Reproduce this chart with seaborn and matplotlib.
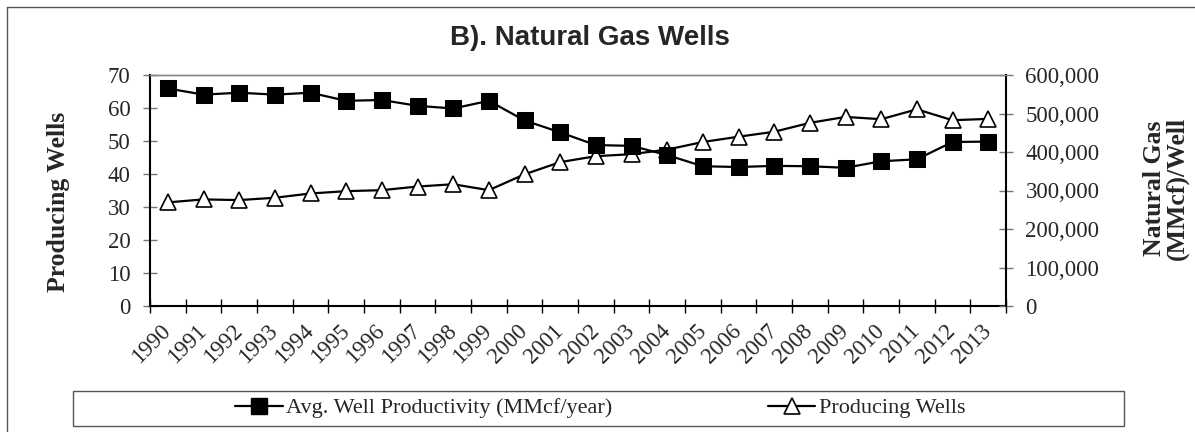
import numpy as np
import pandas as pd
import matplotlib
matplotlib.use("Agg")
import matplotlib.pyplot as plt
from matplotlib.lines import Line2D
from matplotlib.patches import Rectangle
from matplotlib.ticker import FuncFormatter, MultipleLocator
import seaborn as sns

# datos
years = list(range(1990, 2014))
producing_wells = [31.4, 32.3, 32.1, 32.8, 34.1, 34.8, 35.1, 36.2, 36.9, 35.1,
                   39.9, 43.6, 45.4, 46.0, 47.4, 49.7, 51.3, 52.8, 55.5, 57.3,
                   56.6, 59.6, 56.3, 56.7]
gas_per_well = [565000, 549000, 554000, 549000, 554000, 533000, 535000, 520000,
                513000, 533000, 482000, 451000, 418000, 416000, 392000, 363000,
                361000, 364000, 363000, 359000, 376000, 381000, 426000, 427000]
left_ticks = list(range(0, 71, 10))
right_ticks = list(range(0, 600001, 100000))

df = pd.DataFrame({"Year": years, "Wells": producing_wells, "Gas": gas_per_well})

sns.set_theme(style="white")
plt.rcParams["font.family"] = ["Liberation Serif", "DejaVu Serif"]

W, H = 1195, 432
fig = plt.figure(figsize=(W / 100, H / 100), dpi=100)
ax = fig.add_axes([150 / W, 1 - 306 / H, (1006 - 150) / W, (306 - 75) / H])
ax2 = ax.twinx()

sns.lineplot(data=df, x="Year", y="Wells", ax=ax, color="black", linewidth=1.6,
             marker="^", markersize=12, markerfacecolor="white",
             markeredgecolor="black", markeredgewidth=1.2,
             label="Producing Wells")
sns.lineplot(data=df, x="Year", y="Gas", ax=ax2, color="black", linewidth=1.6,
             marker="s", markersize=11, markerfacecolor="black",
             markeredgecolor="black", label="Avg. Well Productivity (MMcf/year)")

for a in (ax, ax2):
    if a.get_legend() is not None:
        a.get_legend().remove()

ax.set_xlim(1989.5, 2013.5)
ax.set_ylim(0, 70)
ax2.set_ylim(0, 600000)
ax.set_yticks(left_ticks)
ax2.set_yticks(right_ticks)
ax2.yaxis.set_major_formatter(FuncFormatter(lambda v, p: f"{int(v):,}"))

ax.set_xticks(years)
ax.set_xticklabels([str(y) for y in years], rotation=45, ha="right",
                   va="center", rotation_mode="anchor", fontsize=16.5)
ax.xaxis.set_minor_locator(MultipleLocator(1, offset=0.5))
ax.tick_params(axis="x", which="major", length=0, pad=16)
ax.tick_params(axis="x", which="minor", direction="inout", length=10,
               width=1, color="black", bottom=True)
ax.tick_params(axis="y", direction="inout", length=10, width=1,
               color="#777777", labelsize=16.5, pad=9, left=True)
ax2.tick_params(axis="y", direction="inout", length=10, width=1,
                color="#777777", labelsize=16.5, pad=9, right=True)

ax.set_xlabel("")
ax.set_ylabel("")
ax2.set_ylabel("")

for a in (ax, ax2):
    for s in ("left", "bottom", "right"):
        a.spines[s].set_color("black")
        a.spines[s].set_linewidth(1.5)
    a.spines["top"].set_color("#888888")
    a.spines["top"].set_linewidth(1)
ax.spines["right"].set_visible(False)
ax2.spines["left"].set_visible(False)
ax2.spines["bottom"].set_visible(False)

# titulo y etiquetas de ejes
fig.text(590 / W, 1 - 38 / H, "B). Natural Gas Wells", ha="center", va="center",
         fontsize=20, fontweight="bold", family=["Liberation Sans", "DejaVu Sans"])
fig.text(58 / W, 1 - 202 / H, "Producing Wells", rotation=90, ha="center",
         va="center", fontsize=18.5, fontweight="bold")
fig.text(1166 / W, 1 - 188 / H, "Natural Gas\n(MMcf)/Well", rotation=90,
         ha="center", va="center", fontsize=18.5, fontweight="bold",
         multialignment="center", linespacing=1.0)

# leyenda
h_sq = Line2D([], [], color="black", linewidth=1.6, marker="s", markersize=11,
              markerfacecolor="black")
h_tr = Line2D([], [], color="black", linewidth=1.6, marker="^", markersize=12,
              markerfacecolor="white", markeredgewidth=1.2)
fig.legend([h_sq, h_tr],
           ["Avg. Well Productivity (MMcf/year)", "Producing Wells"],
           loc="center", bbox_to_anchor=(600 / W, 1 - 408 / H), ncol=2,
           frameon=False, fontsize=16, handlelength=2.15, handletextpad=0.15,
           columnspacing=7.0)
fig.patches.append(Rectangle((73 / W, 1 - 426 / H), (1124 - 73) / W, 35 / H,
                             transform=fig.transFigure, fill=False,
                             edgecolor="#555555", linewidth=1))

# marco exterior
fig.lines.append(Line2D([7 / W, 7 / W], [0, 1 - 7 / H], transform=fig.transFigure,
                        color="#555555", linewidth=1))
fig.lines.append(Line2D([7 / W, 1], [1 - 7 / H, 1 - 7 / H], transform=fig.transFigure,
                        color="#555555", linewidth=1))

fig.savefig("out.png", dpi=100)
